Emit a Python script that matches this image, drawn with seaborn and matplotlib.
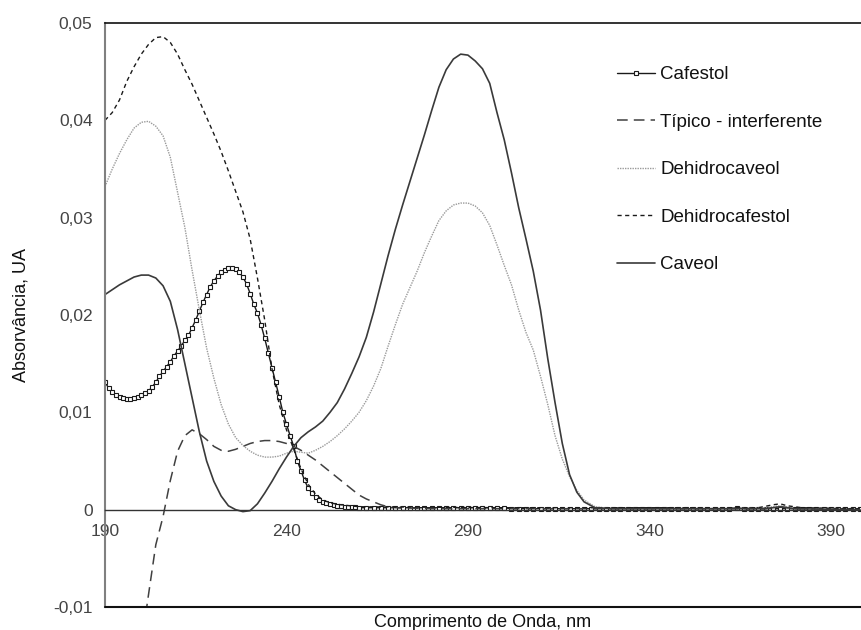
import matplotlib
matplotlib.use("Agg")
import matplotlib.pyplot as plt
import matplotlib.ticker as mticker
import seaborn as sns
import pandas as pd

# ---------------- data ----------------
caf_x = list(range(190, 261)) + list(range(262, 399, 2))
caf_y = [0.0131, 0.0125, 0.0121, 0.0118, 0.0116, 0.0115, 0.0114, 0.0114, 0.0115, 0.0116,
         0.0118, 0.0120, 0.0122, 0.0126, 0.0131, 0.0137, 0.0142, 0.0147, 0.0152, 0.0158,
         0.0163, 0.0168, 0.0174, 0.0179, 0.0187, 0.0195, 0.0204, 0.0213, 0.0221, 0.0229,
         0.0235, 0.0240, 0.0244, 0.0246, 0.0248, 0.0248, 0.0247, 0.0244, 0.0239, 0.0232,
         0.0222, 0.0211, 0.0202, 0.0190, 0.0176, 0.0161, 0.0146, 0.0131, 0.0116, 0.0100,
         0.0088, 0.0076, 0.0065, 0.0050, 0.0040, 0.0030, 0.0022, 0.0017, 0.0013, 0.0010,
         0.0008, 0.0007, 0.0006, 0.0005, 0.0004, 0.0004, 0.0003, 0.0003, 0.0003, 0.0003,
         0.0002,
         0.0002, 0.0002, 0.0002, 0.0002, 0.0002, 0.0002, 0.0002, 0.0002, 0.0002, 0.0002,
         0.0002, 0.0002, 0.0002, 0.0002, 0.0002, 0.0002, 0.0002, 0.0002, 0.0002, 0.0002,
         0.0001, 0.0001, 0.0001, 0.0001, 0.0001, 0.0001, 0.0001, 0.0001, 0.0001, 0.0001,
         0.0001, 0.0001, 0.0001, 0.0001, 0.0001, 0.0001, 0.0001, 0.0001, 0.0001, 0.0001,
         0.0001, 0.0001, 0.0001, 0.0001, 0.0001, 0.0001, 0.0001, 0.0001, 0.0001, 0.0001,
         0.0001, 0.0002, 0.0001, 0.0001, 0.0001, 0.0001, 0.0001, 0.0001, 0.0001, 0.0001,
         0.0001, 0.0001, 0.0001, 0.0001, 0.0001, 0.0001, 0.0001, 0.0001, 0.0001]

tip_x = [200, 202, 204, 206, 208, 210, 212, 214, 216, 218, 220, 222, 224, 226, 228, 230,
         232, 234, 236, 238, 240, 242, 244, 246, 248, 250, 252, 254, 256, 258, 260, 262,
         264, 266, 268, 270, 280, 300, 340, 372, 376, 380, 398]
tip_y = [-0.0139, -0.0087, -0.0036, -0.0007, 0.0030, 0.0060, 0.0076, 0.0082, 0.0078, 0.0072,
         0.0065, 0.0061, 0.0060, 0.0062, 0.0065, 0.0068, 0.0070, 0.0071, 0.0071, 0.0070,
         0.0068, 0.0065, 0.0061, 0.0056, 0.0051, 0.0045, 0.0039, 0.0033, 0.0027, 0.0021,
         0.0015, 0.0011, 0.0008, 0.0005, 0.0003, 0.0002, 0.0001, 0.0001, 0.0001, 0.0001,
         0.0003, 0.0001, 0.0000]

dcav_x = [190, 192, 194, 196, 198, 200, 202, 204, 206, 208, 210, 212, 214, 216, 218, 220,
          222, 224, 226, 228, 230, 232, 234, 236, 238, 240, 242, 244, 246, 248, 250, 252,
          254, 256, 258, 260, 262, 264, 266, 268, 270, 272, 274, 276, 278, 280, 282, 284,
          286, 288, 290, 292, 294, 296, 298, 300, 302, 304, 306, 308, 310, 312, 314, 316,
          318, 320, 322, 325, 330, 360, 372, 376, 380, 398]
dcav_y = [0.0332, 0.0350, 0.0366, 0.0380, 0.0392, 0.0398, 0.0399, 0.0394, 0.0384, 0.0362,
          0.0326, 0.0290, 0.0246, 0.0205, 0.0166, 0.0135, 0.0108, 0.0088, 0.0074, 0.0066,
          0.0060, 0.0056, 0.0054, 0.0054, 0.0055, 0.0058, 0.0060, 0.0059, 0.0058, 0.0061,
          0.0065, 0.0070, 0.0076, 0.0083, 0.0091, 0.0100, 0.0112, 0.0127, 0.0145, 0.0168,
          0.0190, 0.0211, 0.0228, 0.0245, 0.0264, 0.0281, 0.0297, 0.0307, 0.0313, 0.0315,
          0.0315, 0.0312, 0.0305, 0.0292, 0.0272, 0.0251, 0.0231, 0.0205, 0.0182, 0.0164,
          0.0137, 0.0108, 0.0076, 0.0052, 0.0034, 0.0020, 0.0010, 0.0003, 0.0001, 0.0001,
          0.0002, 0.0004, 0.0001, 0.0000]

dcaf_x = [190, 192, 194, 196, 198, 200, 202, 204, 206, 208, 210, 212, 214, 216, 218, 220,
          222, 224, 226, 228, 230, 232, 234, 236, 238, 240, 242, 244, 246, 248, 250, 252,
          255, 260, 300, 340, 370, 374, 376, 378, 382, 398]
dcaf_y = [0.0400, 0.0408, 0.0421, 0.0440, 0.0455, 0.0468, 0.0478, 0.0485, 0.0486, 0.0480,
          0.0468, 0.0452, 0.0437, 0.0420, 0.0403, 0.0386, 0.0368, 0.0348, 0.0327, 0.0306,
          0.0278, 0.0238, 0.0195, 0.0145, 0.0108, 0.0082, 0.0062, 0.0042, 0.0026, 0.0016,
          0.0010, 0.0007, 0.0005, 0.0003, 0.0002, 0.0002, 0.0002, 0.0005, 0.0006, 0.0004,
          0.0002, 0.0001]

cav_x = [190, 192, 194, 196, 198, 200, 202, 204, 206, 208, 210, 212, 214, 216, 218, 220,
         222, 224, 226, 228, 230, 232, 234, 236, 238, 240, 242, 244, 246, 248, 250, 252,
         254, 256, 258, 260, 262, 264, 266, 268, 270, 272, 274, 276, 278, 280, 282, 284,
         286, 288, 290, 292, 294, 296, 298, 300, 302, 304, 306, 308, 310, 312, 314, 316,
         318, 320, 322, 325, 330, 360, 372, 376, 380, 398]
cav_y = [0.0221, 0.0226, 0.0231, 0.0235, 0.0239, 0.0241, 0.0241, 0.0238, 0.0230, 0.0214,
         0.0185, 0.0150, 0.0115, 0.0080, 0.0050, 0.0029, 0.0014, 0.0004, 0.0000, -0.0002,
         -0.0001, 0.0006, 0.0017, 0.0029, 0.0042, 0.0054, 0.0065, 0.0074, 0.0080, 0.0085,
         0.0091, 0.0100, 0.0110, 0.0124, 0.0140, 0.0157, 0.0177, 0.0203, 0.0232, 0.0261,
         0.0288, 0.0313, 0.0337, 0.0361, 0.0385, 0.0410, 0.0434, 0.0452, 0.0463, 0.0468,
         0.0467, 0.0461, 0.0453, 0.0438, 0.0408, 0.0380, 0.0346, 0.0310, 0.0278, 0.0245,
         0.0205, 0.0155, 0.0110, 0.0068, 0.0036, 0.0018, 0.0008, 0.0002, 0.0001, 0.0001,
         0.0001, 0.0003, 0.0001, 0.0000]

series_names = ["Cafestol", "Típico - interferente", "Dehidrocaveol", "Dehidrocafestol", "Caveol"]
y_ticks = [-0.01, 0.0, 0.01, 0.02, 0.03, 0.04, 0.05]
x_ticks = [190, 240, 290, 340, 390]

# ---------------- style ----------------
sns.set_style("white")
plt.rcParams["font.family"] = ["Liberation Sans", "DejaVu Sans"]

fig = plt.figure(figsize=(8.61, 6.30), dpi=100)
ax = fig.add_axes([105 / 861, 23 / 630, 1 - 105 / 861, 584 / 630])

styles = [
    dict(x=caf_x, y=caf_y, color="#1a1a1a", lw=1.0, ls="-", marker="s", ms=3.2,
         mfc="white", mec="#1a1a1a", mew=0.8),
    dict(x=tip_x, y=tip_y, color="#404040", lw=1.1, ls=(0, (7, 4)), marker=None),
    dict(x=dcav_x, y=dcav_y, color="#9a9a9a", lw=1.0, ls=(0, (1, 0.8)), marker=None),
    dict(x=dcaf_x, y=dcaf_y, color="#1a1a1a", lw=1.0, ls=(0, (3, 2.5)), marker=None),
    dict(x=cav_x, y=cav_y, color="#3a3a3a", lw=1.2, ls="-", marker=None),
]

for name, st in zip(series_names, styles):
    df = pd.DataFrame({"x": st["x"], "y": st["y"]})
    kw = dict(color=st["color"], linewidth=st["lw"], linestyle=st["ls"])
    if st["marker"]:
        kw.update(marker=st["marker"], markersize=st["ms"], markerfacecolor=st["mfc"],
                  markeredgecolor=st["mec"], markeredgewidth=st["mew"])
    sns.lineplot(data=df, x="x", y="y", ax=ax, label=name, sort=False, **kw)

ax.set_xlim(190, 398.3)
ax.set_ylim(-0.01, 0.05)

# spines
ax.spines["bottom"].set_position(("data", 0))
ax.spines["bottom"].set_color("#333333")
ax.spines["bottom"].set_linewidth(1.0)
ax.spines["top"].set_color("#111111")
ax.spines["top"].set_linewidth(1.2)
ax.spines["left"].set_color("#808080")
ax.spines["left"].set_linewidth(1.5)
ax.spines["right"].set_visible(False)
ax.axhline(-0.01, color="#111111", lw=1.5, clip_on=False, zorder=5)

ax.set_xticks(x_ticks)
ax.set_yticks(y_ticks)
ax.yaxis.set_major_formatter(mticker.FuncFormatter(
    lambda v, p: "0" if abs(v) < 1e-12 else f"{v:.2f}".replace(".", ",")))
ax.tick_params(axis="x", direction="out", length=4, width=1, color="#333333",
               labelsize=12.5, labelcolor="#444444", pad=6)
ax.tick_params(axis="y", direction="out", length=5, width=1, color="#808080",
               labelsize=12.5, labelcolor="#444444", pad=4)

ax.set_xlabel("Comprimento de Onda, nm", fontsize=13, color="#111111")
ax.xaxis.set_label_coords(0.5, -0.012)
ax.set_ylabel("Absorvância, UA", fontsize=13, color="#111111")
ax.yaxis.set_label_coords(-0.10, 0.5)

leg = ax.legend(loc="upper left", bbox_to_anchor=((617 - 105) / 756, (607 - 66) / 584),
                frameon=False, fontsize=13.5, handlelength=2.0, handletextpad=0.3,
                labelspacing=1.62, borderaxespad=0, borderpad=0, numpoints=1)
for t in leg.get_texts():
    t.set_color("#111111")

fig.savefig("out.png", dpi=100)
